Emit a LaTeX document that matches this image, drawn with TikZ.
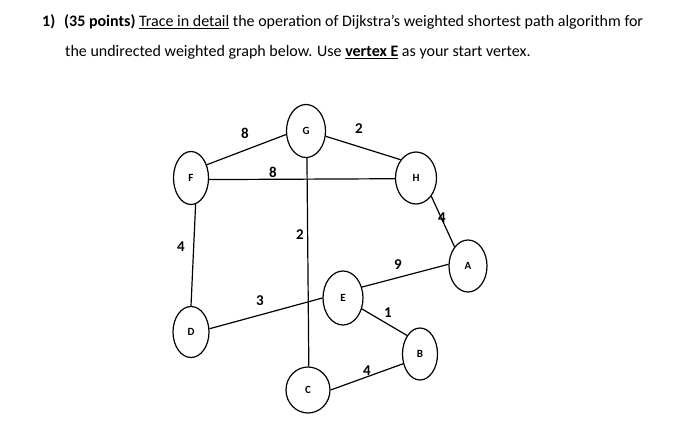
\documentclass[tikz,border=0pt]{standalone}
\usepackage{fontspec}
\setmainfont{Carlito}
\usetikzlibrary{shapes.geometric}
\begin{document}
\begin{tikzpicture}[x=1pt,y=-1pt,
  vtx/.style={draw, ellipse, inner sep=0pt, line width=1.2pt, font=\bfseries\fontsize{11}{12}\selectfont},
  edge/.style={line width=1.2pt},
  wt/.style={font=\bfseries\fontsize{15}{15}\selectfont, inner sep=0pt},
  ttl/.style={anchor=base west, inner sep=0pt, font=\fontsize{16}{18}\selectfont}]
\path[use as bounding box] (0,0) rectangle (700,443);
% title
\node[ttl] (n1) at (42,27) {\textbf{1)}};
\node[ttl] (t1) at (64,27) {\textbf{(35 points)} \underline{Trace in detail} the operation of Dijkstra’s weighted shortest path algorithm for};
\node[ttl] (t2) at (65,57) {the undirected weighted graph below. Use \textbf{\underline{vertex E}} as your start vertex.};
% vertices
\node[vtx, minimum width=35pt, minimum height=53pt] (F) at (191,178) {F};
\node[vtx, minimum width=39pt, minimum height=53pt] (G) at (306,131) {G};
\node[vtx, minimum width=41pt, minimum height=52pt] (H) at (416,178) {H};
\node[vtx, minimum width=38pt, minimum height=52pt] (A) at (468,266) {A};
\node[vtx, minimum width=40pt, minimum height=54pt] (E) at (343,298) {E};
\node[vtx, minimum width=36pt, minimum height=51pt] (D) at (191,332) {D};
\node[vtx, minimum width=35pt, minimum height=52pt] (B) at (420,354) {B};
\node[vtx, minimum width=44pt, minimum height=46pt] (C) at (308,390) {C};
% edges
\draw[edge] (F.40) -- (G.190);
\draw[edge] (G.-15) -- (H.130);
\draw[edge] (F.-5) -- (H.182);
\draw[edge] (G.-88) -- (C.88);
\draw[edge] (F.-80) -- (D.90);
\draw[edge] (H.-50) -- (A.125);
\draw[edge] (E.30) -- (A.175);
\draw[edge] (D.10) -- (E.180);
\draw[edge] (E.-30) -- (B.125);
\draw[edge] (C.0) -- (B.-150);
% weights
\node[wt] (w1) at (245,133) {8};
\node[wt] (w2) at (359,129) {2};
\node[wt] (w3) at (273,172) {8};
\node[wt] (w4) at (300,235) {2};
\node[wt] (w5) at (181,247) {4};
\node[wt] (w6) at (442,218) {4};
\node[wt] (w7) at (398,265) {9};
\node[wt] (w8) at (260,301) {3};
\node[wt] (w9) at (388,313) {1};
\node[wt] (w10) at (367,371) {4};
\end{tikzpicture}
\end{document}
